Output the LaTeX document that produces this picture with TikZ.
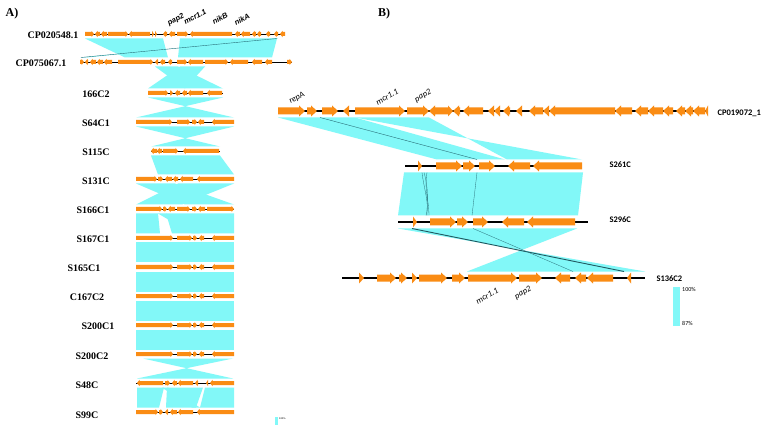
\documentclass[tikz,border=0pt]{standalone}
\usepackage{fontspec}
\setmainfont{Liberation Serif}
\newfontfamily\calibri{Carlito}
\newfontfamily\arialf{Liberation Sans}
\definecolor{cy}{RGB}{130,248,248}
\definecolor{og}{RGB}{250,140,20}
\definecolor{dk}{RGB}{40,110,120}
\newcommand\gene[4]{%
  \pgfmathsetmacro\gLL{min(\gL,(#3)-(#2))}%
  \if r#4
    \fill[og] (#2,#1-\gh) -- ({#3-\gLL},#1-\gh) -- ({#3-\gLL},#1-\gH) -- (#3,#1) -- ({#3-\gLL},#1+\gH) -- ({#3-\gLL},#1+\gh) -- (#2,#1+\gh) -- cycle;
  \else
    \fill[og] (#3,#1-\gh) -- ({#2+\gLL},#1-\gh) -- ({#2+\gLL},#1-\gH) -- (#2,#1) -- ({#2+\gLL},#1+\gH) -- ({#2+\gLL},#1+\gh) -- (#3,#1+\gh) -- cycle;
  \fi}
\newcommand\track[5]{%
  \draw[line width=#4] (#2,#1) -- (#3,#1);
  \foreach \ga/\gb/\gd in {#5} {\gene{#1}{\ga}{\gb}{\gd}}}
\newcommand\slink[6]{\fill[cy] (#2,#1) -- (#3,#1) -- (#6,#4) -- (#5,#4) -- cycle;}
\newcommand\tlink[6]{\fill[cy] (#2,#1) -- (#3,#1) -- (#5,#4) -- (#6,#4) -- cycle;}
\tikzset{
  tlabA/.style={font=\bfseries\fontsize{10}{12}\selectfont},
  tlabB/.style={font=\calibri\bfseries\fontsize{8.5}{10}\selectfont, anchor=west},
  glabA/.style={font=\arialf\bfseries\itshape\fontsize{7.5}{9}\selectfont, rotate=28, inner sep=0pt},
  glabB/.style={font=\calibri\itshape\fontsize{8.5}{10}\selectfont, rotate=29, inner sep=0pt},
  panel/.style={font=\bfseries\fontsize{12}{14}\selectfont},
}
\begin{document}
\begin{tikzpicture}[x=1pt,y=-1pt]
\useasboundingbox (0,0) rectangle (767,427);
\fill[white] (0,0) rectangle (767,427);

% ---------------- Panel A links ----------------
\slink{38.5}{85}{163}{57.5}{125}{168}
\slink{38.5}{180}{277}{57.5}{178}{272}
\tlink{38.5}{271}{278}{57.5}{80}{87}
\draw[dk, line width=0.4] (277,38.5) -- (81,57.5);
\slink{66.5}{155}{178}{88.5}{185}{223}
\slink{66.5}{180}{205}{88.5}{148}{185}
\tlink{97.5}{148}{223}{117.5}{136}{234}
\tlink{126.5}{136}{234}{146.5}{151}{220}
\slink{155.5}{151}{220}{174.5}{158}{234}
\slink{183.5}{136}{175}{204.5}{185}{234}
\slink{183.5}{178}{234}{204.5}{136}{182}
\slink{213.5}{136}{158}{233.5}{136}{160}
\slink{213.5}{166}{234}{233.5}{172}{234}
\slink{213.5}{158}{166}{233.5}{192}{200}
\slink{242.5}{136}{234}{262.5}{136}{234}
\slink{271.5}{136}{234}{291.5}{136}{234}
\slink{300.5}{136}{234}{320.5}{136}{234}
\slink{329.5}{136}{234}{349.5}{136}{234}
\tlink{358.5}{143}{233}{378.5}{137}{233}
\slink{387.5}{137}{164}{407.5}{137}{159}
\slink{387.5}{167}{203}{407.5}{166}{196}
\slink{387.5}{205}{234}{407.5}{200}{234}
\slink{387.5}{162}{168}{407.5}{192}{200}

% ---------------- Panel A tracks ----------------
\def\gh{2}\def\gH{3.2}\def\gL{2.5}
\track{34}{85}{285}{0.6}{85/94/r,95/100/l,101/107/l,108/128/r,129/150/l,152/154/r,155/157/r,163/167/l,169/175/l,177/188/r,190/232/l,235/240/l,241/250/l,252/256/l,257/261/l,266/270/l,274/278/l,280/285/l}
\track{62}{80}{292}{0.6}{80/84/r,85/88/l,90/96/l,97/103/l,104/112/l,118/153/r,155/158/l,160/165/l,168/172/l,177/187/r,188/203/l,205/228/r,230/248/l,252/262/l,265/272/l,287/292/r}
\track{93}{148}{223}{0.6}{148/168/r,170/173/r,175/180/l,182/187/l,188/203/l,207/222/l}
\track{122}{136}{234}{0.6}{136/172/r,177/190/r,192/197/r,198/204/l,212/234/l}
\track{151}{151}{220}{0.6}{151/157/l,157/162/l,163/178/r,183/219/l}
\track{179}{136}{234}{0.6}{136/157/r,158/163/r,165/172/l,173/178/l,180/193/l,197/234/l}
\track{209}{136}{234}{0.6}{136/162/r,163/167/r,168/175/l,177/190/r,192/197/r,198/205/l,207/234/r}
\foreach \yy in {238,267,296,325,354}{
\track{\yy}{136}{234}{0.6}{136/173/r,177/192/r,193/197/r,199/204/l,212/234/l}}
\track{383}{136}{234}{0.6}{137/163/l,165/170/r,172/177/l,178/193/l,195/198/l,206/208/l,210/234/l}
\track{412}{136}{234}{0.6}{136/158/r,159/163/r,165/168/l,170/177/l,178/193/l,197/234/l}

% ---------------- Panel A labels ----------------
\node[panel] (pa) at (12,14) {A)};
\node[tlabA, anchor=east] (a1) at (82,35) {CP020548.1};
\node[tlabA, anchor=east] (a2) at (70,63) {CP075067.1};
\node[tlabA] (a3) at (96,94) {166C2};
\node[tlabA] (a4) at (96,123) {S64C1};
\node[tlabA] (a5) at (96,152) {S115C};
\node[tlabA] (a6) at (96,181) {S131C};
\node[tlabA] (a7) at (93,210) {S166C1};
\node[tlabA] (a8) at (93,239) {S167C1};
\node[tlabA] (a9) at (84,268) {S165C1};
\node[tlabA] (a10) at (87,297) {C167C2};
\node[tlabA] (a11) at (98,326) {S200C1};
\node[tlabA] (a12) at (92,356) {S200C2};
\node[tlabA] (a13) at (87,385) {S48C};
\node[tlabA] (a14) at (87,415) {S99C};
\node[glabA] (g1) at (176,20) {pap2};
\node[glabA] (g2) at (195,17) {mcr1.1};
\node[glabA] (g3) at (220,18) {nikB};
\node[glabA] (g4) at (242,19) {nikA};
\fill[cy] (275,417) rectangle (278,425);
\node[font=\arialf\fontsize{2.5}{3}\selectfont, anchor=west, inner sep=0.5pt] (la) at (278.5,418.5) {100\%};

% ---------------- Panel B links ----------------
\fill[cy] (278,117.5) -- (355,117.5) -- (505,159.5) -- (437,159.5) -- cycle;
\draw[dk, line width=0.4] (320,117.5) -- (477,159.5);
\fill[cy] (355,117.5) -- (429,117.5) -- (507,159.5) -- (582,159.5) -- cycle;
\fill[cy] (404,172.5) -- (583,172.5) -- (578,215.5) -- (398,215.5) -- cycle;
\draw[dk, line width=0.3] (424,172.5) .. controls (429,190) and (427,200) .. (427,215.5);
\draw[dk, line width=0.3] (427,172.5) .. controls (424,190) and (429,200) .. (429,215.5);
\draw[dk, line width=0.3] (422,172.5) .. controls (424,190) and (430,205) .. (426,215.5);
\draw[dk, line width=0.3] (477,172.5) -- (472,215.5);
\fill[cy] (398,228.5) -- (577,228.5) -- (467,271.5) -- (645,271.5) -- cycle;
\draw[dk!80!black, line width=0.9] (412,228.5) -- (624,271.5);
\draw[dk, line width=0.3] (473,228.5) -- (573,271.5);

% ---------------- Panel B tracks ----------------
\def\gh{3.5}\def\gH{5.5}\def\gL{6}
\track{111}{278}{708}{1.2}{278/305/r,307/317/r,322/338/r,343/349/l,355/405/r,407/429/r,429/448/l,448/453/r,453/460/l,463/483/l,488/494/l,494/500/l,503/510/l,516/522/l,529/543/l,543/549/l,549/615/l,615/632/l,635/648/l,648/663/l,663/673/l,676/685/l,685/693/l,693/705/l,705/708/l}
\track{166}{405}{582}{1.2}{418/422/r,436/462/r,463/475/r,479/495/r,508/530/l,533/582/l}
\track{222}{398}{588}{1.2}{413/417/r,430/456/r,457/468/r,473/488/r,502/524/l,527/575/l}
\track{278}{342}{645}{1.2}{359/364/r,377/396/r,399/407/r,412/417/r,419/447/r,452/465/r,468/517/r,519/542/r,555/570/l,575/586/l,587/613/l,627/631/l}

% ---------------- Panel B labels ----------------
\node[panel] (pb) at (384,14) {B)};
\node[tlabB] (b1) at (714,113) {CP019072\_1};
\node[tlabB] (b2) at (606,165) {S261C};
\node[tlabB] (b3) at (606,220) {S296C};
\node[tlabB] (b4) at (653,279) {S136C2};
\node[glabB] (h1) at (297,98) {repA};
\node[glabB] (h2) at (387,97) {mcr1.1};
\node[glabB] (h3) at (423,96) {pap2};
\node[glabB] (h4) at (487,296) {mcr1.1};
\node[glabB] (h5) at (523,293) {pap2};
\fill[cy] (673,287) rectangle (680,326);
\node[font=\calibri\fontsize{6}{7}\selectfont, anchor=west, inner sep=1pt] (l1) at (681,289.5) {100\%};
\node[font=\calibri\fontsize{6}{7}\selectfont, anchor=west, inner sep=1pt] (l2) at (681,323.5) {87\%};
\end{tikzpicture}
\end{document}
